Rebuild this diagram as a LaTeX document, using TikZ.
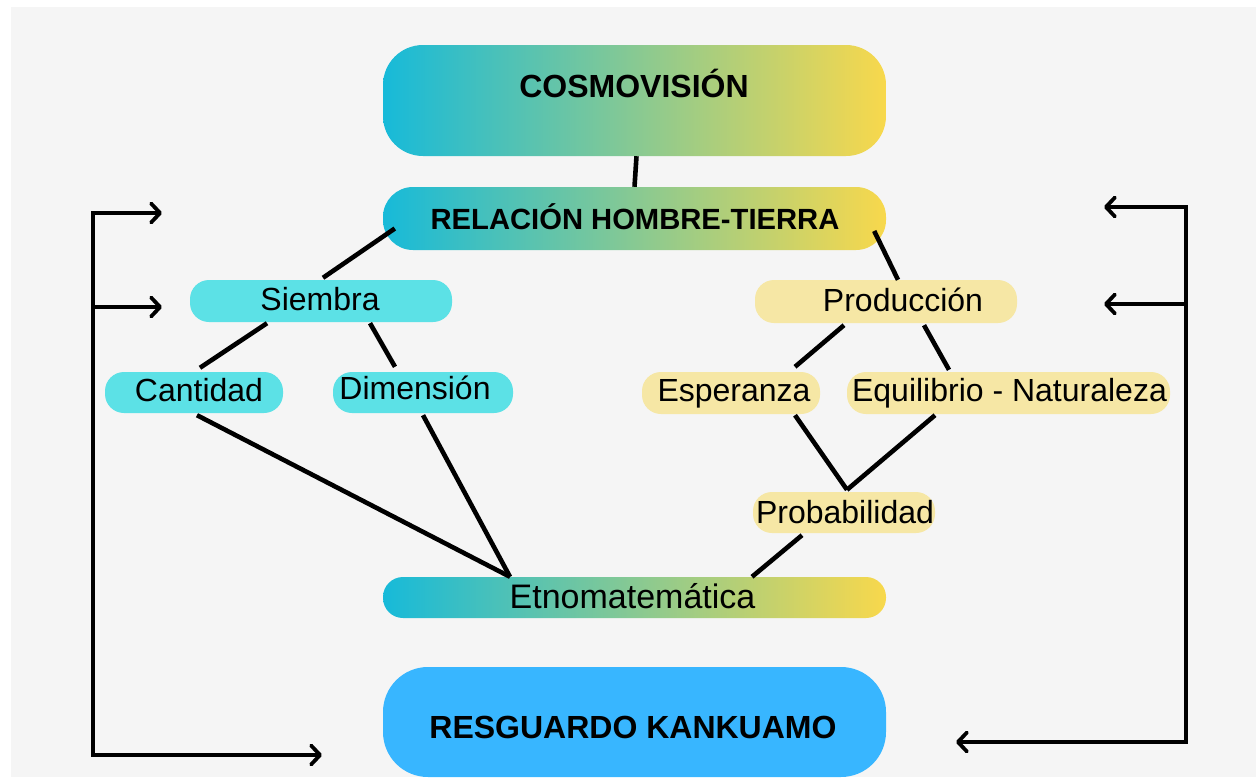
\documentclass[tikz,border=0pt]{standalone}
\usepackage{fontspec}
\setmainfont{Liberation Sans}
\usetikzlibrary{arrows.meta,calc}
\definecolor{bgc}{HTML}{F5F5F5}
\definecolor{gL}{HTML}{17BAD9}
\definecolor{gR}{HTML}{F8D84C}
\definecolor{cyanbox}{HTML}{5CE1E6}
\definecolor{yelbox}{HTML}{F6E7A5}
\definecolor{bluebox}{HTML}{38B6FF}
\begin{document}
\begin{tikzpicture}[x=1pt,y=-1pt,
  txt/.style={font=\fontsize{32}{36}\selectfont, text=black, inner sep=0pt, anchor=base},
  btxt/.style={font=\bfseries\fontsize{32}{36}\selectfont, text=black, inner sep=0pt, anchor=base},
  boxbase/.style={inner sep=0pt, draw=none, shape=rectangle},
  gradbox/.style={boxbase, shade, left color=gL, right color=gR},
  cbox/.style={boxbase, fill=cyanbox, rounded corners=19pt, minimum height=42pt},
  ybox/.style={boxbase, fill=yelbox, rounded corners=19pt, minimum height=42pt},
  conn/.style={line width=4.6pt, black},
  fb/.style={line width=3.8pt, black, line join=miter},
  tip/.tip={Straight Barb[length=9pt,width=19pt,round]}
]
\useasboundingbox (0,0) rectangle (1256,777);
\fill[white] (0,0) rectangle (1256,777);
\fill[bgc] (11,7) rectangle (1256,777);

% main boxes
\node[gradbox, rounded corners=40pt, minimum width=503pt, minimum height=111pt] (cosmo) at (634.5,100.5) {};
\node[btxt] (cosmot) at (634,97.5) {COSMOVISIÓN};

\node[gradbox, rounded corners=30pt, minimum width=503pt, minimum height=63pt] (rel) at (634.5,218.5) {};
\node[btxt, font=\bfseries\fontsize{29.2}{34}\selectfont] (relt) at (635,229) {RELACIÓN HOMBRE-TIERRA};

\node[gradbox, rounded corners=20pt, minimum width=503pt, minimum height=41pt] (etno) at (634.5,597.5) {};
\node[txt, font=\fontsize{34}{38}\selectfont] (etnot) at (632.5,608) {Etnomatemática};

\node[boxbase, fill=bluebox, rounded corners=45pt, minimum width=503pt, minimum height=110pt] (resg) at (634.5,722) {};
\node[btxt] (resgt) at (633,738) {RESGUARDO KANKUAMO};

% left branch
\node[cbox, minimum width=262pt] (siem) at (321,301) {};
\node[txt] (siemt) at (320,310) {Siembra};
\node[cbox, minimum width=178pt, minimum height=41pt] (cant) at (194,392.5) {};
\node[txt] (cantt) at (199,401) {Cantidad};
\node[cbox, minimum width=180pt, minimum height=41pt] (dim) at (423,392.5) {};
\node[txt] (dimt) at (415,399) {Dimensión};

% right branch
\node[ybox, minimum width=262pt, minimum height=43pt] (prod) at (886,301.5) {};
\node[txt] (prodt) at (903,311) {Producción};
\node[ybox, minimum width=178pt] (esp) at (731,393) {};
\node[txt] (espt) at (734,401) {Esperanza};
\node[ybox, minimum width=323pt] (equ) at (1008.5,393) {};
\node[txt] (equt) at (1009.5,401) {Equilibrio - Naturaleza};
\node[ybox, minimum width=182pt, minimum height=41pt] (prob) at (844,512.5) {};
\node[txt] (probt) at (845,523) {Probabilidad};

% connectors
\draw[conn] ($(cosmo.south)+(2,0)$) -- (rel.north);
\draw[conn] ($(rel.west)+(12,10)$) -- ($(siem.north)+(2,-2)$);
\draw[conn] ($(rel.east)+(-12,12.5)$) -- ($(prod.north)+(12,0)$);
\draw[conn] ($(siem.south)+(-54,1)$) -- ($(cant.north)+(6,-4)$);
\draw[conn] ($(siem.south)+(49,1)$) -- ($(dim.north)+(-28,-5)$);
\draw[conn] ($(cant.south)+(3,2)$) -- ($(etno.north)+(-124.5,0)$);
\draw[conn] ($(dim.south)+(0,2)$) -- ($(etno.north)+(-124.5,0)$);
\draw[conn] ($(prod.south)+(-42,2)$) -- ($(esp.north)+(64,-5)$);
\draw[conn] ($(prod.south)+(38,2)$) -- ($(equ.north)+(-59.5,-2)$);
\draw[conn] ($(esp.south)+(64,1)$) -- ($(prob.north)+(3,-2)$);
\draw[conn] ($(equ.south)+(-73.5,1)$) -- ($(prob.north)+(3,-2)$);
\draw[conn] ($(prob.south)+(-42,2)$) -- ($(etno.north)+(117.5,0)$);

% feedback arrows
\coordinate (L1) at (93,213);
\coordinate (L2) at (93,307);
\coordinate (L3) at (93,755);
\coordinate (L1e) at (162,213);
\coordinate (L2e) at (162,307);
\coordinate (L3e) at (322,755);
\coordinate (R1) at (1186,207);
\coordinate (R2) at (1186,304);
\coordinate (R3) at (1186,742);
\coordinate (R1e) at (1104,207);
\coordinate (R2e) at (1104,304);
\coordinate (R3e) at (956,742);
\draw[fb, tip-tip] (L1e) -- (L1) -- (L3) -- (L3e);
\draw[fb, -tip] (L2) -- (L2e);
\draw[fb, tip-tip] (R1e) -- (R1) -- (R3) -- (R3e);
\draw[fb, -tip] (R2) -- (R2e);
\end{tikzpicture}
\end{document}
